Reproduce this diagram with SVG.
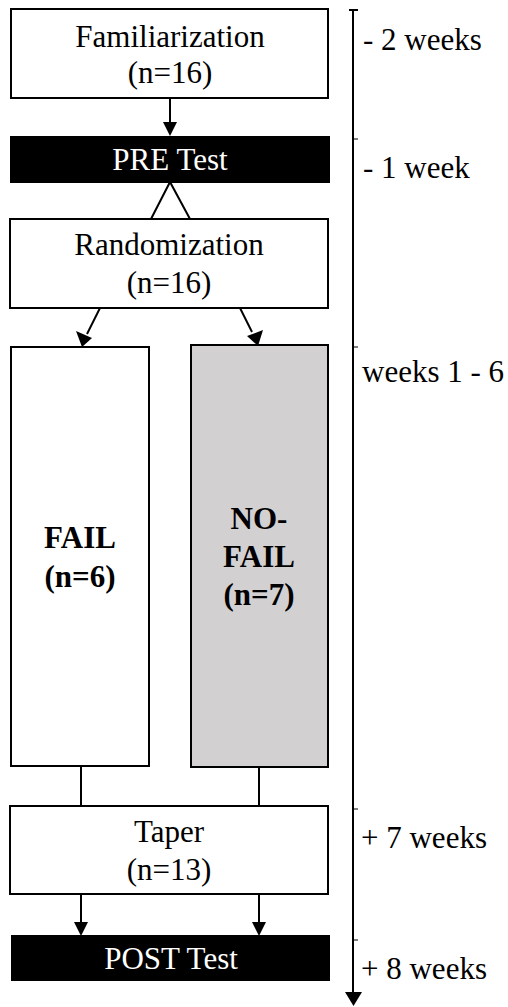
<svg xmlns="http://www.w3.org/2000/svg" width="508" height="1007" viewBox="0 0 508 1007">
<style>
.box{fill:#fff;stroke:#000;stroke-width:2}
.dark{fill:#000;stroke:#000;stroke-width:2}
.gray{fill:#d3d0d1;stroke:#000;stroke-width:2}
.t{font-family:'Liberation Serif','Times New Roman','DejaVu Serif',serif;font-size:31px;text-anchor:middle;fill:#000}
.w{fill:#fff}
.b{font-weight:bold}
.lab{font-family:'Liberation Serif','Times New Roman','DejaVu Serif',serif;font-size:31px;fill:#000}
.ln{stroke:#000;stroke-width:2;fill:none}
</style>
<g id="connectors">
<line class="ln" x1="170" y1="98" x2="170" y2="122"/>
<path d="M163,122 L177,122 L170,136 Z" fill="#000"/>
<polyline class="ln" points="151,219 170,182 190,219"/>
<line class="ln" x1="100" y1="308" x2="87" y2="334"/>
<path d="M76,331 L92,338 L82,347 Z" fill="#000"/>
<line class="ln" x1="240" y1="308" x2="252" y2="332"/>
<path d="M247,336 L263,330 L258,346 Z" fill="#000"/>
<line class="ln" x1="81" y1="766" x2="81" y2="806"/>
<line class="ln" x1="259" y1="767" x2="259" y2="806"/>
<line class="ln" x1="81" y1="894" x2="81" y2="922"/>
<path d="M74,922 L88,922 L81,936 Z" fill="#000"/>
<line class="ln" x1="259" y1="894" x2="259" y2="922"/>
<path d="M252,922 L266,922 L259,936 Z" fill="#000"/>
</g>
<g id="timeline">
<line class="ln" x1="353" y1="10" x2="353" y2="994"/>
<path d="M345,992 L362,992 L353.5,1006 Z" fill="#000"/>
<line class="ln" x1="349" y1="10" x2="358" y2="10"/>
<line x1="353" y1="139" x2="358" y2="139" stroke="#000" stroke-width="1"/>
<line x1="353" y1="347" x2="358" y2="347" stroke="#000" stroke-width="1"/>
<line x1="353" y1="809" x2="358" y2="809" stroke="#000" stroke-width="1"/>
<line x1="353" y1="940" x2="358" y2="940" stroke="#000" stroke-width="1"/>
<text class="lab" x="363" y="50">- 2 weeks</text>
<text class="lab" x="363" y="178">- 1 week</text>
<text class="lab" x="362" y="382">weeks 1 - 6</text>
<text class="lab" x="361" y="848">+ 7 weeks</text>
<text class="lab" x="361" y="979">+ 8 weeks</text>
</g>
<g id="familiarization">
<rect class="box" x="11" y="9" width="317" height="89"/>
<text class="t" x="170" y="47">Familiarization</text>
<text class="t" x="170" y="83">(n=16)</text>
</g>
<g id="pretest">
<rect class="dark" x="11" y="137" width="318" height="45"/>
<text class="t w" x="170" y="170">PRE Test</text>
</g>
<g id="randomization">
<rect class="box" x="10" y="219" width="318" height="89"/>
<text class="t" x="169" y="255">Randomization</text>
<text class="t" x="169" y="293">(n=16)</text>
</g>
<g id="fail">
<rect class="box" x="11" y="347" width="138" height="419"/>
<text class="t b" x="80" y="548">FAIL</text>
<text class="t b" x="80" y="587">(n=6)</text>
</g>
<g id="nofail">
<rect class="gray" x="191" y="345" width="137" height="422"/>
<text class="t b" x="259" y="529">NO-</text>
<text class="t b" x="259" y="567">FAIL</text>
<text class="t b" x="259" y="605">(n=7)</text>
</g>
<g id="taper">
<rect class="box" x="10" y="806" width="318" height="88"/>
<text class="t" x="169" y="842">Taper</text>
<text class="t" x="169" y="880">(n=13)</text>
</g>
<g id="posttest">
<rect class="dark" x="12" y="936" width="317" height="44"/>
<text class="t w" x="171" y="969">POST Test</text>
</g>
</svg>
